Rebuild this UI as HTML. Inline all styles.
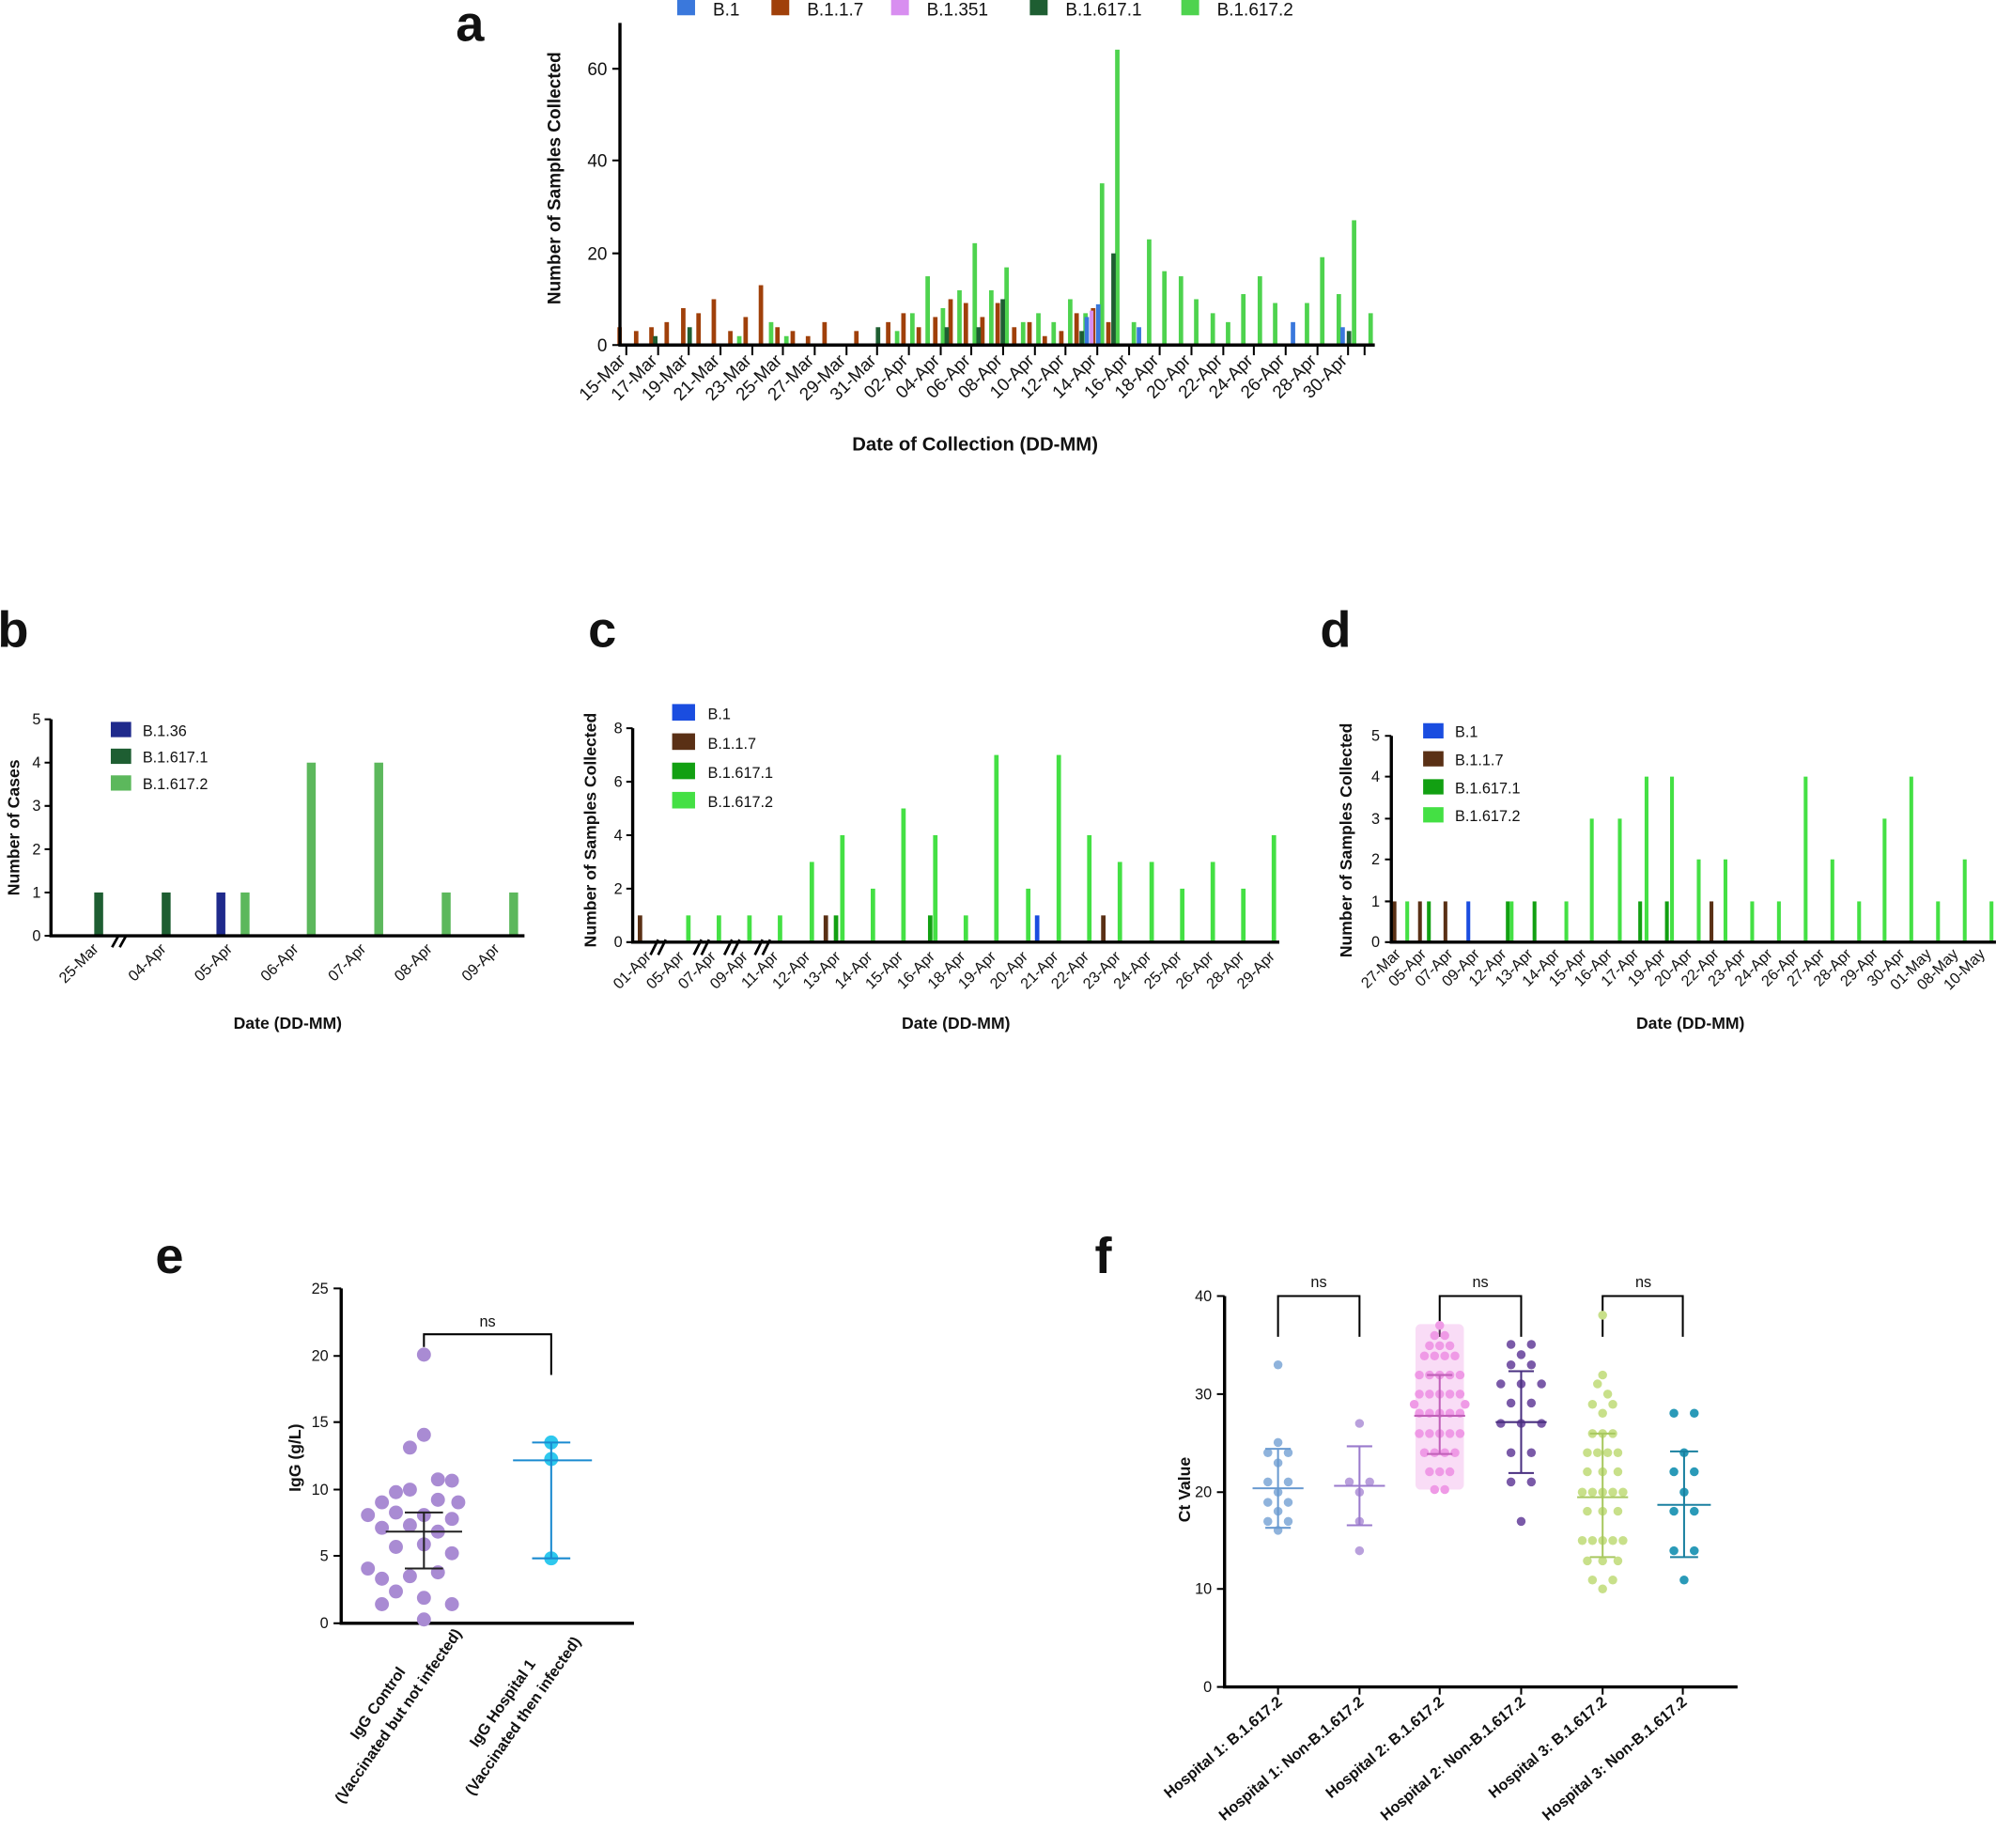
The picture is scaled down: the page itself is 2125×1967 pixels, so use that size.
<!DOCTYPE html>
<html><head><meta charset="utf-8"><style>
html,body{margin:0;padding:0;background:#fff}
svg{display:block}
text{font-family:"Liberation Sans",Arial,sans-serif;fill:#111}
.t{font-size:12px}
.lab{font-size:13px;font-weight:bold}
.big{font-size:40px;font-weight:bold}
.ax{stroke:#000;stroke-width:2.5;fill:none}
.tk{stroke:#000;stroke-width:1.5}
</style></head><body>
<svg width="2125" height="1967" viewBox="0 0 1568 1451.5" xmlns="http://www.w3.org/2000/svg">
<!-- PANEL A -->
<text class="big" x="358" y="32">a</text>
<g class="t" style="font-size:14px">
<rect x="532" y="0" width="14" height="12" fill="#3a78dc"/><text x="560" y="12">B.1</text>
<rect x="606" y="0" width="14" height="12" fill="#a0400a"/><text x="634" y="12">B.1.1.7</text>
<rect x="700" y="0" width="14" height="12" fill="#d88ef0"/><text x="728" y="12">B.1.351</text>
<rect x="809" y="0" width="14" height="12" fill="#1e5e32"/><text x="837" y="12">B.1.617.1</text>
<rect x="928" y="0" width="14" height="12" fill="#4ed34e"/><text x="956" y="12">B.1.617.2</text>
</g>
<g fill="#4ed34e">
<rect x="579" y="264" width="3.5" height="7"/><rect x="604" y="253" width="3.5" height="18"/><rect x="616" y="264" width="3.5" height="7"/>
<rect x="703" y="260" width="3.5" height="11"/><rect x="715" y="246" width="3.5" height="25"/><rect x="727" y="217" width="3.5" height="54"/><rect x="739" y="242" width="3.5" height="29"/><rect x="752" y="228" width="3.5" height="43"/><rect x="764" y="191" width="3.5" height="80"/><rect x="777" y="228" width="3.5" height="43"/><rect x="789" y="210" width="3.5" height="61"/><rect x="802" y="253" width="3.5" height="18"/><rect x="814" y="246" width="3.5" height="25"/><rect x="826" y="253" width="3.5" height="18"/><rect x="839" y="235" width="3.5" height="36"/><rect x="851" y="246" width="3.5" height="25"/><rect x="864" y="144" width="3.5" height="127"/><rect x="876" y="39" width="3.5" height="232"/><rect x="889" y="253" width="3.5" height="18"/><rect x="901" y="188" width="3.5" height="83"/><rect x="913" y="213" width="3.5" height="58"/><rect x="926" y="217" width="3.5" height="54"/><rect x="938" y="235" width="3.5" height="36"/><rect x="951" y="246" width="3.5" height="25"/><rect x="963" y="253" width="3.5" height="18"/><rect x="975" y="231" width="3.5" height="40"/><rect x="988" y="217" width="3.5" height="54"/><rect x="1000" y="238" width="3.5" height="33"/><rect x="1025" y="238" width="3.5" height="33"/><rect x="1037" y="202" width="3.5" height="69"/><rect x="1050" y="231" width="3.5" height="40"/><rect x="1062" y="173" width="3.5" height="98"/><rect x="1075" y="246" width="3.5" height="25"/>
</g>
<g fill="#a0400a">
<rect x="485" y="257" width="3.5" height="14"/><rect x="498" y="260" width="3.5" height="11"/><rect x="510" y="257" width="3.5" height="14"/><rect x="522" y="253" width="3.5" height="18"/><rect x="535" y="242" width="3.5" height="29"/><rect x="547" y="246" width="3.5" height="25"/><rect x="559" y="235" width="3.5" height="36"/><rect x="572" y="260" width="3.5" height="11"/><rect x="584" y="249" width="3.5" height="22"/><rect x="596" y="224" width="3.5" height="47"/><rect x="609" y="257" width="3.5" height="14"/><rect x="621" y="260" width="3.5" height="11"/><rect x="633" y="264" width="3.5" height="7"/><rect x="646" y="253" width="3.5" height="18"/><rect x="671" y="260" width="3.5" height="11"/><rect x="696" y="253" width="3.5" height="18"/><rect x="708" y="246" width="3.5" height="25"/><rect x="720" y="257" width="3.5" height="14"/><rect x="733" y="249" width="3.5" height="22"/><rect x="745" y="235" width="3.5" height="36"/><rect x="757" y="238" width="3.5" height="33"/><rect x="770" y="249" width="3.5" height="22"/><rect x="782" y="238" width="3.5" height="33"/><rect x="795" y="257" width="3.5" height="14"/><rect x="807" y="253" width="3.5" height="18"/><rect x="819" y="264" width="3.5" height="7"/><rect x="832" y="260" width="3.5" height="11"/><rect x="844" y="246" width="3.5" height="25"/><rect x="857" y="242" width="3.5" height="29"/><rect x="869" y="253" width="3.5" height="18"/>
</g>
<g fill="#1e5e32">
<rect x="513" y="264" width="3.5" height="7"/><rect x="540" y="257" width="3.5" height="14"/><rect x="688" y="257" width="3.5" height="14"/><rect x="742" y="257" width="3.5" height="14"/><rect x="767" y="257" width="3.5" height="14"/><rect x="786" y="235" width="3.5" height="36"/><rect x="873" y="199" width="3.5" height="72"/><rect x="848" y="260" width="3.5" height="11"/><rect x="1058" y="260" width="3.5" height="11"/>
</g>
<g fill="#3a78dc">
<rect x="852" y="249" width="3.5" height="22"/><rect x="861" y="239" width="3.5" height="32"/><rect x="1014" y="253" width="3.5" height="18"/><rect x="1053" y="257" width="3.5" height="14"/><rect x="893" y="257" width="3.5" height="14"/>
</g>
<g fill="#d88ef0"><rect x="856" y="244" width="3" height="27"/></g>
<path class="ax" d="M487,18 V271 H1080"/>
<g class="tk"><path d="M481,271H487M481,199H487M481,126H487M481,54H487"/></g>
<g class="t" text-anchor="end" style="font-size:14px"><text x="477" y="276">0</text><text x="477" y="204">20</text><text x="477" y="131">40</text><text x="477" y="59">60</text></g>
<text class="lab" transform="translate(440,140) rotate(-90)" text-anchor="middle" style="font-size:14px">Number of Samples Collected</text>
<g class="tk">
<path d="M492,271v8M517,271v8M541,271v8M566,271v8M591,271v8M615,271v8M640,271v8M665,271v8M689,271v8M714,271v8M739,271v8M763,271v8M788,271v8M813,271v8M837,271v8M862,271v8M887,271v8M911,271v8M936,271v8M961,271v8M985,271v8M1010,271v8M1035,271v8M1059,271v8M1072,271v8"/>
</g>
<g class="t" text-anchor="end" style="font-size:14px">
<text transform="translate(492,284) rotate(-45)">15-Mar</text><text transform="translate(517,284) rotate(-45)">17-Mar</text><text transform="translate(541,284) rotate(-45)">19-Mar</text><text transform="translate(566,284) rotate(-45)">21-Mar</text><text transform="translate(591,284) rotate(-45)">23-Mar</text><text transform="translate(615,284) rotate(-45)">25-Mar</text><text transform="translate(640,284) rotate(-45)">27-Mar</text><text transform="translate(665,284) rotate(-45)">29-Mar</text><text transform="translate(689,284) rotate(-45)">31-Mar</text><text transform="translate(714,284) rotate(-45)">02-Apr</text><text transform="translate(739,284) rotate(-45)">04-Apr</text><text transform="translate(763,284) rotate(-45)">06-Apr</text><text transform="translate(788,284) rotate(-45)">08-Apr</text><text transform="translate(813,284) rotate(-45)">10-Apr</text><text transform="translate(837,284) rotate(-45)">12-Apr</text><text transform="translate(862,284) rotate(-45)">14-Apr</text><text transform="translate(887,284) rotate(-45)">16-Apr</text><text transform="translate(911,284) rotate(-45)">18-Apr</text><text transform="translate(936,284) rotate(-45)">20-Apr</text><text transform="translate(961,284) rotate(-45)">22-Apr</text><text transform="translate(985,284) rotate(-45)">24-Apr</text><text transform="translate(1010,284) rotate(-45)">26-Apr</text><text transform="translate(1035,284) rotate(-45)">28-Apr</text><text transform="translate(1059,284) rotate(-45)">30-Apr</text>
</g>
<text class="lab" x="766" y="354" text-anchor="middle" style="font-size:15px">Date of Collection (DD-MM)</text>

<!-- PANEL B -->
<text class="big" x="-2" y="508">b</text>
<g class="t">
<rect x="87" y="567" width="16" height="12" fill="#1f2a8c"/><text x="112" y="578">B.1.36</text>
<rect x="87" y="588" width="16" height="12" fill="#1e5e32"/><text x="112" y="599">B.1.617.1</text>
<rect x="87" y="609" width="16" height="12" fill="#5cb85c"/><text x="112" y="620">B.1.617.2</text>
</g>
<g fill="#1e5e32"><rect x="74" y="701" width="7" height="34"/><rect x="127" y="701" width="7" height="34"/></g>
<rect x="170" y="701" width="7" height="34" fill="#1f2a8c"/>
<g fill="#5cb85c"><rect x="189" y="701" width="7" height="34"/><rect x="241" y="599" width="7" height="136"/><rect x="294" y="599" width="7" height="136"/><rect x="347" y="701" width="7" height="34"/><rect x="400" y="701" width="7" height="34"/></g>
<path class="ax" d="M40,565 V735 H412"/>
<g class="tk"><path d="M35,735h5M35,701h5M35,667h5M35,633h5M35,599h5M35,565h5"/></g>
<g class="t" text-anchor="end"><text x="32" y="739">0</text><text x="32" y="705">1</text><text x="32" y="671">2</text><text x="32" y="637">3</text><text x="32" y="603">4</text><text x="32" y="569">5</text></g>
<path d="M88,744l5,-9M94,744l5,-9" stroke="#000" stroke-width="2"/>
<text class="lab" transform="translate(15,650) rotate(-90)" text-anchor="middle">Number of Cases</text>
<g class="t" text-anchor="end">
<text transform="translate(78,746) rotate(-45)">25-Mar</text><text transform="translate(131,746) rotate(-45)">04-Apr</text><text transform="translate(183,746) rotate(-45)">05-Apr</text><text transform="translate(235,746) rotate(-45)">06-Apr</text><text transform="translate(288,746) rotate(-45)">07-Apr</text><text transform="translate(340,746) rotate(-45)">08-Apr</text><text transform="translate(393,746) rotate(-45)">09-Apr</text>
</g>
<text class="lab" x="226" y="808" text-anchor="middle">Date (DD-MM)</text>

<!-- PANEL C -->
<text class="big" x="462" y="508">c</text>
<g class="t">
<rect x="528" y="553" width="18" height="13" fill="#1a4de0"/><text x="556" y="565">B.1</text>
<rect x="528" y="576" width="18" height="13" fill="#5a3015"/><text x="556" y="588">B.1.1.7</text>
<rect x="528" y="599" width="18" height="13" fill="#12a012"/><text x="556" y="611">B.1.617.1</text>
<rect x="528" y="622" width="18" height="13" fill="#44e044"/><text x="556" y="634">B.1.617.2</text>
</g>
<g fill="#5a3015"><rect x="501" y="719" width="3.5" height="21"/><rect x="647" y="719" width="3.5" height="21"/><rect x="865" y="719" width="3.5" height="21"/></g>
<g fill="#12a012"><rect x="655" y="719" width="3.5" height="21"/><rect x="729" y="719" width="3.5" height="21"/></g>
<rect x="813" y="719" width="3.5" height="21" fill="#1a4de0"/>
<g fill="#44e044">
<rect x="539" y="719" width="3.5" height="21"/><rect x="563" y="719" width="3.5" height="21"/><rect x="587" y="719" width="3.5" height="21"/><rect x="611" y="719" width="3.5" height="21"/><rect x="636" y="677" width="3.5" height="63"/><rect x="660" y="656" width="3.5" height="84"/><rect x="684" y="698" width="3.5" height="42"/><rect x="708" y="635" width="3.5" height="105"/><rect x="733" y="656" width="3.5" height="84"/><rect x="757" y="719" width="3.5" height="21"/><rect x="781" y="593" width="3.5" height="147"/><rect x="806" y="698" width="3.5" height="42"/><rect x="830" y="593" width="3.5" height="147"/><rect x="854" y="656" width="3.5" height="84"/><rect x="878" y="677" width="3.5" height="63"/><rect x="903" y="677" width="3.5" height="63"/><rect x="927" y="698" width="3.5" height="42"/><rect x="951" y="677" width="3.5" height="63"/><rect x="975" y="698" width="3.5" height="42"/><rect x="999" y="656" width="3.5" height="84"/>
</g>
<path class="ax" d="M497,572 V740 H1005"/>
<g class="tk"><path d="M492,740h5M492,698h5M492,656h5M492,614h5M492,572h5"/></g>
<g class="t" text-anchor="end"><text x="489" y="744">0</text><text x="489" y="702">2</text><text x="489" y="660">4</text><text x="489" y="618">6</text><text x="489" y="576">8</text></g>
<g stroke="#000" stroke-width="2"><path d="M511,750l6,-12M517,750l6,-12M545,750l6,-12M551,750l6,-12M569,750l6,-12M575,750l6,-12M593,750l6,-12M599,750l6,-12"/></g>
<text class="lab" transform="translate(468,652) rotate(-90)" text-anchor="middle">Number of Samples Collected</text>
<g class="t" text-anchor="end">
<text transform="translate(512,752) rotate(-45)">01-Apr</text><text transform="translate(538,752) rotate(-45)">05-Apr</text><text transform="translate(563,752) rotate(-45)">07-Apr</text><text transform="translate(588,752) rotate(-45)">09-Apr</text><text transform="translate(612,752) rotate(-45)">11-Apr</text><text transform="translate(637,752) rotate(-45)">12-Apr</text><text transform="translate(661,752) rotate(-45)">13-Apr</text><text transform="translate(686,752) rotate(-45)">14-Apr</text><text transform="translate(710,752) rotate(-45)">15-Apr</text><text transform="translate(735,752) rotate(-45)">16-Apr</text><text transform="translate(759,752) rotate(-45)">18-Apr</text><text transform="translate(783,752) rotate(-45)">19-Apr</text><text transform="translate(808,752) rotate(-45)">20-Apr</text><text transform="translate(832,752) rotate(-45)">21-Apr</text><text transform="translate(856,752) rotate(-45)">22-Apr</text><text transform="translate(881,752) rotate(-45)">23-Apr</text><text transform="translate(905,752) rotate(-45)">24-Apr</text><text transform="translate(929,752) rotate(-45)">25-Apr</text><text transform="translate(954,752) rotate(-45)">26-Apr</text><text transform="translate(978,752) rotate(-45)">28-Apr</text><text transform="translate(1002,752) rotate(-45)">29-Apr</text>
</g>
<text class="lab" x="751" y="808" text-anchor="middle">Date (DD-MM)</text>

<!-- PANEL D -->
<text class="big" x="1037" y="508">d</text>
<g class="t">
<rect x="1118" y="568" width="16" height="12" fill="#1a4de0"/><text x="1143" y="579">B.1</text>
<rect x="1118" y="590" width="16" height="12" fill="#5a3015"/><text x="1143" y="601">B.1.1.7</text>
<rect x="1118" y="612" width="16" height="12" fill="#12a012"/><text x="1143" y="623">B.1.617.1</text>
<rect x="1118" y="634" width="16" height="12" fill="#44e044"/><text x="1143" y="645">B.1.617.2</text>
</g>
<g fill="#5a3015"><rect x="1094" y="708" width="3" height="32"/><rect x="1114" y="708" width="3" height="32"/><rect x="1134" y="708" width="3" height="32"/><rect x="1343" y="708" width="3" height="32"/></g>
<g fill="#12a012"><rect x="1121" y="708" width="3" height="32"/><rect x="1183" y="708" width="3" height="32"/><rect x="1204" y="708" width="3" height="32"/><rect x="1287" y="708" width="3" height="32"/><rect x="1308" y="708" width="3" height="32"/></g>
<rect x="1152" y="708" width="3" height="32" fill="#1a4de0"/>
<g fill="#44e044">
<rect x="1104" y="708" width="3" height="32"/><rect x="1186" y="708" width="3" height="32"/><rect x="1229" y="708" width="3" height="32"/><rect x="1249" y="643" width="3" height="97"/><rect x="1271" y="643" width="3" height="97"/><rect x="1292" y="610" width="3" height="130"/><rect x="1312" y="610" width="3" height="130"/><rect x="1333" y="675" width="3" height="65"/><rect x="1354" y="675" width="3" height="65"/><rect x="1375" y="708" width="3" height="32"/><rect x="1396" y="708" width="3" height="32"/><rect x="1417" y="610" width="3" height="130"/><rect x="1438" y="675" width="3" height="65"/><rect x="1459" y="708" width="3" height="32"/><rect x="1479" y="643" width="3" height="97"/><rect x="1500" y="610" width="3" height="130"/><rect x="1521" y="708" width="3" height="32"/><rect x="1542" y="675" width="3" height="65"/><rect x="1563" y="708" width="3" height="32"/>
</g>
<path class="ax" d="M1093,578 V740 H1568"/>
<g class="tk"><path d="M1088,740h5M1088,708h5M1088,675h5M1088,643h5M1088,610h5M1088,578h5"/></g>
<g class="t" text-anchor="end"><text x="1084" y="744">0</text><text x="1084" y="712">1</text><text x="1084" y="679">2</text><text x="1084" y="647">3</text><text x="1084" y="614">4</text><text x="1084" y="582">5</text></g>
<text class="lab" transform="translate(1062,660) rotate(-90)" text-anchor="middle">Number of Samples Collected</text>
<g class="t" text-anchor="end">
<text transform="translate(1101,750) rotate(-45)">27-Mar</text><text transform="translate(1121,750) rotate(-45)">05-Apr</text><text transform="translate(1142,750) rotate(-45)">07-Apr</text><text transform="translate(1163,750) rotate(-45)">09-Apr</text><text transform="translate(1184,750) rotate(-45)">12-Apr</text><text transform="translate(1205,750) rotate(-45)">13-Apr</text><text transform="translate(1226,750) rotate(-45)">14-Apr</text><text transform="translate(1247,750) rotate(-45)">15-Apr</text><text transform="translate(1267,750) rotate(-45)">16-Apr</text><text transform="translate(1288,750) rotate(-45)">17-Apr</text><text transform="translate(1309,750) rotate(-45)">19-Apr</text><text transform="translate(1330,750) rotate(-45)">20-Apr</text><text transform="translate(1351,750) rotate(-45)">22-Apr</text><text transform="translate(1372,750) rotate(-45)">23-Apr</text><text transform="translate(1393,750) rotate(-45)">24-Apr</text><text transform="translate(1414,750) rotate(-45)">26-Apr</text><text transform="translate(1434,750) rotate(-45)">27-Apr</text><text transform="translate(1455,750) rotate(-45)">28-Apr</text><text transform="translate(1476,750) rotate(-45)">29-Apr</text><text transform="translate(1497,750) rotate(-45)">30-Apr</text><text transform="translate(1518,750) rotate(-45)">01-May</text><text transform="translate(1539,750) rotate(-45)">08-May</text><text transform="translate(1560,750) rotate(-45)">10-May</text>
</g>
<text class="lab" x="1328" y="808" text-anchor="middle">Date (DD-MM)</text>

<!-- PANEL E -->
<text class="big" x="122" y="1000">e</text>
<path class="ax" d="M268,1012 V1275 H498"/>
<g class="tk"><path d="M262,1275h6M262,1222h6M262,1170h6M262,1117h6M262,1065h6M262,1012h6"/></g>
<g class="t" text-anchor="end"><text x="258" y="1279">0</text><text x="258" y="1226">5</text><text x="258" y="1174">10</text><text x="258" y="1121">15</text><text x="258" y="1069">20</text><text x="258" y="1016">25</text></g>
<text class="lab" transform="translate(236,1145) rotate(-90)" text-anchor="middle">IgG (g/L)</text>
<path d="M333,1058V1048H433V1080" stroke="#000" stroke-width="1.5" fill="none"/>
<text class="t" x="383" y="1042" text-anchor="middle">ns</text>
<g fill="#a98bd3">
<circle cx="333" cy="1064" r="5.5"/><circle cx="333" cy="1127" r="5.5"/><circle cx="322" cy="1137" r="5.5"/><circle cx="344" cy="1162" r="5.5"/><circle cx="355" cy="1163" r="5.5"/><circle cx="311" cy="1172" r="5.5"/><circle cx="322" cy="1170" r="5.5"/><circle cx="300" cy="1180" r="5.5"/><circle cx="344" cy="1178" r="5.5"/><circle cx="360" cy="1180" r="5.5"/><circle cx="289" cy="1190" r="5.5"/><circle cx="311" cy="1188" r="5.5"/><circle cx="333" cy="1190" r="5.5"/><circle cx="355" cy="1193" r="5.5"/><circle cx="300" cy="1200" r="5.5"/><circle cx="322" cy="1198" r="5.5"/><circle cx="344" cy="1203" r="5.5"/><circle cx="311" cy="1215" r="5.5"/><circle cx="333" cy="1213" r="5.5"/><circle cx="355" cy="1220" r="5.5"/><circle cx="289" cy="1232" r="5.5"/><circle cx="300" cy="1240" r="5.5"/><circle cx="322" cy="1238" r="5.5"/><circle cx="344" cy="1235" r="5.5"/><circle cx="311" cy="1250" r="5.5"/><circle cx="333" cy="1255" r="5.5"/><circle cx="300" cy="1260" r="5.5"/><circle cx="355" cy="1260" r="5.5"/><circle cx="333" cy="1272" r="5.5"/>
</g>
<path d="M303,1203H363M318,1188H348M318,1232H348M333,1188V1232" stroke="#222" stroke-width="1.5"/>
<g fill="#2ec8ee"><circle cx="433" cy="1133" r="5.5"/><circle cx="433" cy="1146" r="5.5"/><circle cx="433" cy="1224" r="5.5"/></g>
<path d="M403,1147H465M418,1133H448M418,1224H448M433,1133V1224" stroke="#1a8ad0" stroke-width="1.5"/>
<g class="lab" text-anchor="middle" style="font-size:12px">
<text transform="translate(300,1340) rotate(-55)">IgG Control</text><text transform="translate(316,1350) rotate(-55)">(Vaccinated but not infected)</text>
<text transform="translate(398,1340) rotate(-55)">IgG Hospital 1</text><text transform="translate(414,1350) rotate(-55)">(Vaccinated then infected)</text>
</g>

<!-- PANEL F -->
<text class="big" x="860" y="1000">f</text>
<path class="ax" d="M962,1018 V1325 H1365"/>
<g class="tk"><path d="M956,1325h6M956,1248h6M956,1172h6M956,1095h6M956,1018h6"/></g>
<g class="t" text-anchor="end"><text x="952" y="1329">0</text><text x="952" y="1252">10</text><text x="952" y="1176">20</text><text x="952" y="1099">30</text><text x="952" y="1022">40</text></g>
<text class="lab" transform="translate(935,1170) rotate(-90)" text-anchor="middle">Ct Value</text>
<g stroke="#000" stroke-width="1.5" fill="none"><path d="M1004,1050V1018H1068V1050M1131,1050V1018H1195V1050M1259,1050V1018H1322V1050"/></g>
<g class="t" text-anchor="middle"><text x="1036" y="1011">ns</text><text x="1163" y="1011">ns</text><text x="1291" y="1011">ns</text></g>
<!-- H1 B.1.617.2 -->
<g fill="#8fb3dc"><circle cx="1004" cy="1072" r="3.5"/><circle cx="1004" cy="1133" r="3.5"/><circle cx="996" cy="1141" r="3.5"/><circle cx="1012" cy="1141" r="3.5"/><circle cx="1004" cy="1149" r="3.5"/><circle cx="996" cy="1164" r="3.5"/><circle cx="1012" cy="1164" r="3.5"/><circle cx="1004" cy="1172" r="3.5"/><circle cx="996" cy="1180" r="3.5"/><circle cx="1012" cy="1180" r="3.5"/><circle cx="1004" cy="1187" r="3.5"/><circle cx="996" cy="1195" r="3.5"/><circle cx="1012" cy="1195" r="3.5"/><circle cx="1004" cy="1202" r="3.5"/></g>
<path d="M984,1169H1024M994,1138H1014M994,1200H1014M1004,1138V1200" stroke="#6a9ad0" stroke-width="1.5"/>
<g fill="#b9a0dc"><circle cx="1068" cy="1118" r="3.5"/><circle cx="1060" cy="1164" r="3.5"/><circle cx="1076" cy="1164" r="3.5"/><circle cx="1068" cy="1172" r="3.5"/><circle cx="1068" cy="1195" r="3.5"/><circle cx="1068" cy="1218" r="3.5"/></g>
<path d="M1048,1167H1088M1058,1136H1078M1058,1198H1078M1068,1136V1198" stroke="#9a7acc" stroke-width="1.5"/>
<!-- H2 pink -->
<g fill="#ef9ae6">
<rect x="1112" y="1040" width="38" height="130" rx="4" opacity="0.35"/>
<circle cx="1131" cy="1041" r="3.5"/><circle cx="1127" cy="1049" r="3.5"/><circle cx="1135" cy="1049" r="3.5"/><circle cx="1123" cy="1057" r="3.5"/><circle cx="1131" cy="1057" r="3.5"/><circle cx="1139" cy="1057" r="3.5"/><circle cx="1119" cy="1065" r="3.5"/><circle cx="1127" cy="1065" r="3.5"/><circle cx="1135" cy="1065" r="3.5"/><circle cx="1143" cy="1065" r="3.5"/><circle cx="1115" cy="1080" r="3.5"/><circle cx="1123" cy="1080" r="3.5"/><circle cx="1131" cy="1080" r="3.5"/><circle cx="1139" cy="1080" r="3.5"/><circle cx="1147" cy="1080" r="3.5"/><circle cx="1115" cy="1095" r="3.5"/><circle cx="1123" cy="1095" r="3.5"/><circle cx="1131" cy="1095" r="3.5"/><circle cx="1139" cy="1095" r="3.5"/><circle cx="1147" cy="1095" r="3.5"/><circle cx="1111" cy="1103" r="3.5"/><circle cx="1151" cy="1103" r="3.5"/><circle cx="1115" cy="1110" r="3.5"/><circle cx="1123" cy="1110" r="3.5"/><circle cx="1131" cy="1110" r="3.5"/><circle cx="1139" cy="1110" r="3.5"/><circle cx="1147" cy="1110" r="3.5"/><circle cx="1115" cy="1126" r="3.5"/><circle cx="1123" cy="1126" r="3.5"/><circle cx="1131" cy="1126" r="3.5"/><circle cx="1139" cy="1126" r="3.5"/><circle cx="1147" cy="1126" r="3.5"/><circle cx="1119" cy="1141" r="3.5"/><circle cx="1127" cy="1141" r="3.5"/><circle cx="1135" cy="1141" r="3.5"/><circle cx="1143" cy="1141" r="3.5"/><circle cx="1123" cy="1156" r="3.5"/><circle cx="1131" cy="1156" r="3.5"/><circle cx="1139" cy="1156" r="3.5"/><circle cx="1127" cy="1170" r="3.5"/><circle cx="1135" cy="1170" r="3.5"/>
</g>
<path d="M1111,1112H1151M1121,1080H1141M1121,1142H1141M1131,1080V1142" stroke="#c060b8" stroke-width="1.5"/>
<!-- H2 non -->
<g fill="#7a5aa8"><circle cx="1187" cy="1056" r="3.5"/><circle cx="1203" cy="1056" r="3.5"/><circle cx="1195" cy="1064" r="3.5"/><circle cx="1187" cy="1072" r="3.5"/><circle cx="1203" cy="1072" r="3.5"/><circle cx="1179" cy="1087" r="3.5"/><circle cx="1195" cy="1087" r="3.5"/><circle cx="1211" cy="1087" r="3.5"/><circle cx="1187" cy="1102" r="3.5"/><circle cx="1203" cy="1102" r="3.5"/><circle cx="1179" cy="1118" r="3.5"/><circle cx="1195" cy="1118" r="3.5"/><circle cx="1211" cy="1118" r="3.5"/><circle cx="1187" cy="1141" r="3.5"/><circle cx="1203" cy="1141" r="3.5"/><circle cx="1187" cy="1164" r="3.5"/><circle cx="1203" cy="1164" r="3.5"/><circle cx="1195" cy="1195" r="3.5"/></g>
<path d="M1175,1117H1215M1185,1077H1205M1185,1157H1205M1195,1077V1157" stroke="#4a3080" stroke-width="1.5"/>
<!-- H3 -->
<g fill="#c8e08a">
<circle cx="1259" cy="1033" r="3.5"/><circle cx="1259" cy="1080" r="3.5"/><circle cx="1255" cy="1087" r="3.5"/><circle cx="1263" cy="1095" r="3.5"/><circle cx="1251" cy="1103" r="3.5"/><circle cx="1267" cy="1103" r="3.5"/><circle cx="1259" cy="1110" r="3.5"/><circle cx="1251" cy="1126" r="3.5"/><circle cx="1259" cy="1126" r="3.5"/><circle cx="1267" cy="1126" r="3.5"/><circle cx="1247" cy="1141" r="3.5"/><circle cx="1255" cy="1141" r="3.5"/><circle cx="1263" cy="1141" r="3.5"/><circle cx="1271" cy="1141" r="3.5"/><circle cx="1247" cy="1156" r="3.5"/><circle cx="1259" cy="1156" r="3.5"/><circle cx="1271" cy="1156" r="3.5"/><circle cx="1243" cy="1172" r="3.5"/><circle cx="1251" cy="1172" r="3.5"/><circle cx="1259" cy="1172" r="3.5"/><circle cx="1267" cy="1172" r="3.5"/><circle cx="1275" cy="1172" r="3.5"/><circle cx="1247" cy="1187" r="3.5"/><circle cx="1259" cy="1187" r="3.5"/><circle cx="1271" cy="1187" r="3.5"/><circle cx="1243" cy="1210" r="3.5"/><circle cx="1251" cy="1210" r="3.5"/><circle cx="1259" cy="1210" r="3.5"/><circle cx="1267" cy="1210" r="3.5"/><circle cx="1275" cy="1210" r="3.5"/><circle cx="1247" cy="1226" r="3.5"/><circle cx="1259" cy="1226" r="3.5"/><circle cx="1271" cy="1226" r="3.5"/><circle cx="1251" cy="1241" r="3.5"/><circle cx="1267" cy="1241" r="3.5"/><circle cx="1259" cy="1248" r="3.5"/>
</g>
<path d="M1239,1176H1279M1249,1126H1269M1249,1223H1269M1259,1126V1223" stroke="#a8c860" stroke-width="1.5"/>
<g fill="#2a9ab8"><circle cx="1315" cy="1110" r="3.5"/><circle cx="1331" cy="1110" r="3.5"/><circle cx="1323" cy="1141" r="3.5"/><circle cx="1315" cy="1156" r="3.5"/><circle cx="1331" cy="1156" r="3.5"/><circle cx="1323" cy="1172" r="3.5"/><circle cx="1315" cy="1187" r="3.5"/><circle cx="1331" cy="1187" r="3.5"/><circle cx="1315" cy="1218" r="3.5"/><circle cx="1331" cy="1218" r="3.5"/><circle cx="1323" cy="1241" r="3.5"/></g>
<path d="M1302,1182H1344M1312,1140H1334M1312,1223H1334M1323,1140V1223" stroke="#1a80a0" stroke-width="1.5"/>
<g class="tk"><path d="M1004,1325v6M1068,1325v6M1131,1325v6M1195,1325v6M1259,1325v6M1322,1325v6"/></g>
<g class="lab" text-anchor="end" style="font-size:12px">
<text transform="translate(1008,1338) rotate(-40)">Hospital 1: B.1.617.2</text><text transform="translate(1072,1338) rotate(-40)">Hospital 1: Non-B.1.617.2</text><text transform="translate(1135,1338) rotate(-40)">Hospital 2: B.1.617.2</text><text transform="translate(1199,1338) rotate(-40)">Hospital 2: Non-B.1.617.2</text><text transform="translate(1263,1338) rotate(-40)">Hospital 3: B.1.617.2</text><text transform="translate(1326,1338) rotate(-40)">Hospital 3: Non-B.1.617.2</text>
</g>
</svg>
</body></html>
